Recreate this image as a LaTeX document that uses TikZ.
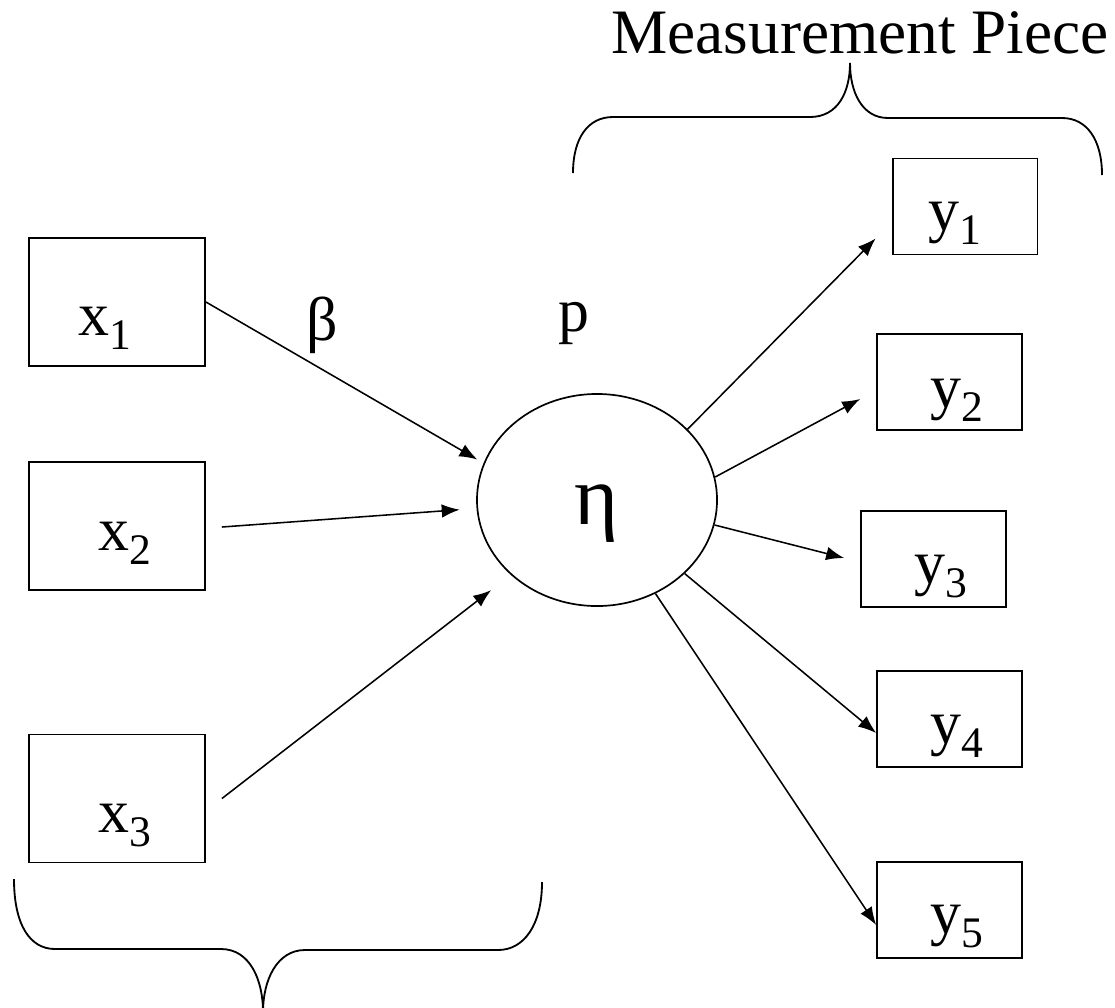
\documentclass[tikz,border=0pt]{standalone}
\usepackage{fontspec}
\setmainfont{Liberation Serif}
\usetikzlibrary{arrows.meta,calc,shapes.geometric}
\newcommand\lowsub[1]{\raisebox{-0.24em}{\fontsize{31}{36}\selectfont #1}}

\begin{document}
\begin{tikzpicture}[x=0.025cm,y=-0.025cm,every node/.style={font=\fontsize{44}{52}\selectfont,inner sep=0pt},
  varbox/.style={draw,line width=1.3pt},
  xbox/.style={varbox,minimum width=4.4cm,minimum height=3.2cm},
  ybox/.style={varbox,minimum width=3.62cm,minimum height=2.4cm},
  link/.style={line width=1.1pt,-{Latex[length=0.45cm,width=0.34cm]}},
  brace/.style={line width=1.3pt}]
\useasboundingbox (0,0) rectangle (1115,1007);
% boxes and latent variable
\node[xbox] (x1) at (117,302) {};
\node[xbox] (x2) at (117,526) {};
\node[xbox] (x3) at (117,798.5) {};
\node[ybox] (y1) at (965,206.5) {};
\node[ybox] (y2) at (949.5,382) {};
\node[ybox] (y3) at (933.5,559) {};
\node[ybox] (y4) at (949.5,719) {};
\node[ybox] (y5) at (949.5,910) {};
\node[ellipse,draw,line width=1.2pt,minimum width=6cm,minimum height=5.3cm] (eta) at (597,500) {};
% labels
\node[anchor=base west] (lx1) at (78,335) {x\lowsub{1}};
\node[anchor=base west] (lx2) at (98,550) {x\lowsub{2}};
\node[anchor=base west] (lx3) at (98,832) {x\lowsub{3}};
\node[anchor=base west] (ly1) at (928,230) {y\lowsub{1}};
\node[anchor=base west] (ly2) at (930,407) {y\lowsub{2}};
\node[anchor=base west] (ly3) at (914,583) {y\lowsub{3}};
\node[anchor=base west] (ly4) at (930,743) {y\lowsub{4}};
\node[anchor=base west] (ly5) at (930,933) {y\lowsub{5}};
\node[anchor=base,font=\fontsize{60}{68}\selectfont] (etatxt) at (597,524) {η};
\node[anchor=base] (beta) at (322,340) {β};
\node[anchor=base] (load) at (574,331) {p};
\node[anchor=base,font=\fontsize{45}{54}\selectfont] (meas) at (860,53) {Measurement Piece};
% structural paths
\draw[link,shorten >=0.18cm] (x1.east) -- (eta.162);
\draw[link,shorten >=0.42cm] ($(x2.east)+(16,1)$) -- (eta.184);
\draw[link,shorten >=0.62cm] ($(x3.east)+(16,0)$) -- (eta.221);
% loadings
\draw[link] (eta.38) -- ($(y1.south west)+(-16,-17)$);
\draw[link] (eta.11) -- ($(y2.west)+(-16,17)$);
\draw[link] (eta.348) -- ($(y3.west)+(-16,-1)$);
\draw[link] (eta.320) -- ($(y4.west)+(0,14)$);
\draw[link] (eta.302) -- ($(y5.west)+(0,15)$);
% braces
\draw[brace] (573,173) .. controls (573,138) and (588,117) .. (613,117) -- (810,117) .. controls (838,117) and (850,92) .. (850,63) .. controls (850,92) and (862,118) .. (888,118) -- (1062,118) .. controls (1087,118) and (1102,140) .. (1102,175);
\draw[brace] (14,879) .. controls (14,925) and (30,949) .. (55,949) -- (221,949) .. controls (250,949) and (263,980) .. (263,1012) .. controls (263,980) and (277,950) .. (305,950) -- (498,950) .. controls (524,950) and (542,925) .. (542,882);
\end{tikzpicture}
\end{document}
